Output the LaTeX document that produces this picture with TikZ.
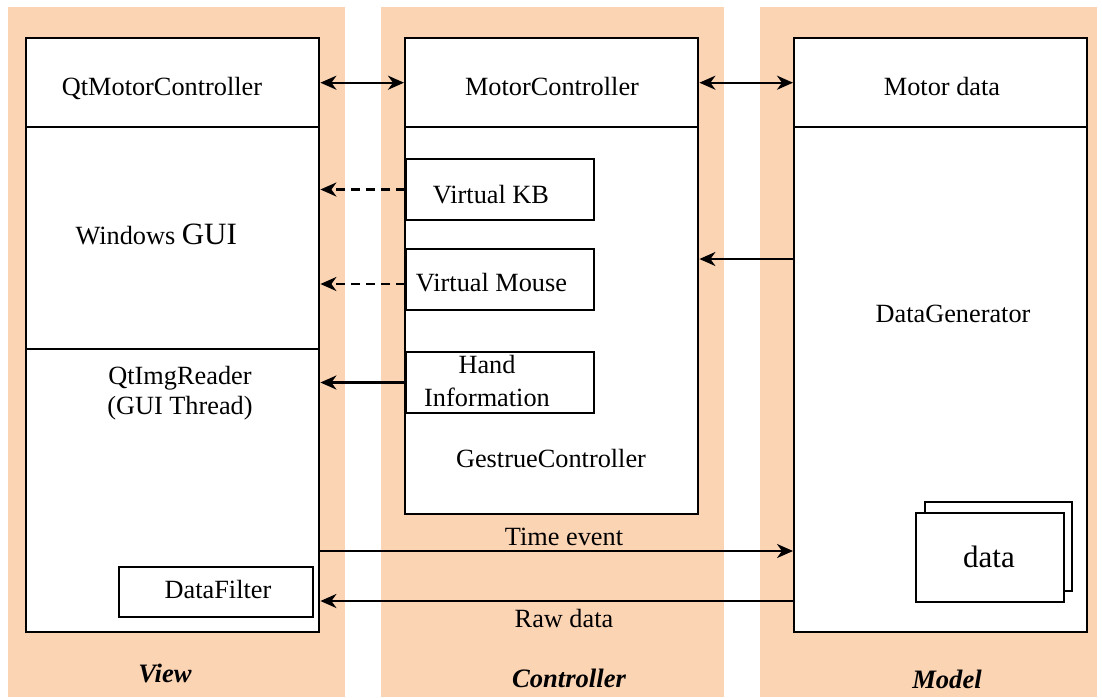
\documentclass[tikz,border=0pt]{standalone}
\usepackage{fontspec}
\setmainfont{Liberation Serif}
\usepackage{tikz}
\usetikzlibrary{arrows.meta}
\definecolor{peach}{RGB}{251,212,180}

\begin{document}
\begin{tikzpicture}[x=1pt, y=-1pt, font=\fontsize{26.3}{31}\selectfont,
	frame/.style={draw, fill=white, line width=2.4pt, inner sep=0pt, anchor=north west},
	subbox/.style={draw, fill=white, line width=2pt, inner sep=0pt, anchor=north west},
	conn/.style={line width=2.3pt, -{Stealth[length=16pt, width=14pt, inset=5pt]}},
	both/.style={line width=2.3pt, {Stealth[length=16pt, width=14pt, inset=5pt]}-{Stealth[length=16pt, width=14pt, inset=5pt]}},
	tag/.style={anchor=base, font=\fontsize{26.6}{31}\selectfont\bfseries\itshape}]
	\useasboundingbox (0,0) rectangle (1102,697);
	\fill[peach] (8,7) rectangle (345,697);
	\fill[peach] (381,7) rectangle (724,697);
	\fill[peach] (760,7) rectangle (1097,697);

	\node[frame, minimum width=293pt, minimum height=89pt] (qtmc) at (25,37) {};
	\node[frame, minimum width=293pt, minimum height=222pt] (wingui) at (25,126) {};
	\node[frame, minimum width=293pt, minimum height=283pt] (reader) at (25,348) {};
	\node[subbox, minimum width=194pt, minimum height=50pt] (filter) at (118,566) {};
	\node[anchor=base] (qtmctext) at (162,95) {QtMotorController};
	\node[anchor=base west] (guitext) at (72,244) {Windows {\fontsize{31}{36}\selectfont GUI}};
	\node[anchor=base, align=center, font=\fontsize{26.3}{30}\selectfont] (readertext) at (180,414) {QtImgReader\\(GUI Thread)};
	\node[anchor=base] (filtertext) at (218,598) {DataFilter};
	\node[tag] (viewtag) at (165,682) {View};

	\node[frame, minimum width=293pt, minimum height=476pt] (ctrl) at (404,37) {};
	\node[frame, minimum width=293pt, minimum height=89pt] (mc) at (404,37) {};
	\node[subbox, minimum width=188pt, minimum height=61pt] (vkb) at (405,158) {};
	\node[subbox, minimum width=188pt, minimum height=61pt] (vmouse) at (405,248) {};
	\node[subbox, minimum width=188pt, minimum height=61pt] (hand) at (405,351) {};
	\node[anchor=base] (mctext) at (552,95) {MotorController};
	\node[anchor=base] (vkbtext) at (491,203) {Virtual KB};
	\node[anchor=base] (vmousetext) at (491.5,291) {Virtual Mouse};
	\node[anchor=base, align=center, font=\fontsize{26.3}{33}\selectfont] (handtext) at (487,406) {Hand\\Information};
	\node[anchor=base] (gesttext) at (551,467) {GestrueController};
	\node[tag] (ctrltag) at (569,687) {Controller};

	\node[frame, minimum width=293pt, minimum height=594pt] (model) at (793,37) {};
	\node[frame, minimum width=293pt, minimum height=89pt] (md) at (793,37) {};
	\node[subbox, minimum width=147pt, minimum height=89pt] (databack) at (924,501) {};
	\node[subbox, minimum width=148pt, minimum height=89pt] (data) at (915,512) {};
	\node[anchor=base] (mdtext) at (942,95) {Motor data};
	\node[anchor=base] (gentext) at (953,322) {DataGenerator};
	\node[anchor=base, font=\fontsize{31}{36}\selectfont] (datatext) at (989,567) {data};
	\node[tag] (modeltag) at (947,688) {Model};

	\coordinate (gen) at (793,259);
	\coordinate (tick) at (318,551);
	\coordinate (raw) at (793,601);
	\draw[both] (qtmc.east) -- (mc.west);
	\draw[both] (mc.east) -- (md.west);
	\draw[conn, dashed, dash pattern=on 9pt off 6pt] (vkb.west) -- (vkb.west -| wingui.east);
	\draw[conn, dashed, dash pattern=on 9pt off 6pt] ([yshift=-4.5pt]vmouse.west) -- ([yshift=-4.5pt]vmouse.west -| wingui.east);
	\draw[conn] (hand.west) -- (hand.west -| reader.east);
	\draw[conn] (gen) -- (gen -| ctrl.east);
	\draw[conn] (tick) -- (tick -| model.west);
	\draw[conn] (raw) -- (raw -| reader.east);
	\node[anchor=base] (ticktext) at (564,545) {Time event};
	\node[anchor=base] (rawtext) at (564,627) {Raw data};
\end{tikzpicture}
\end{document}
